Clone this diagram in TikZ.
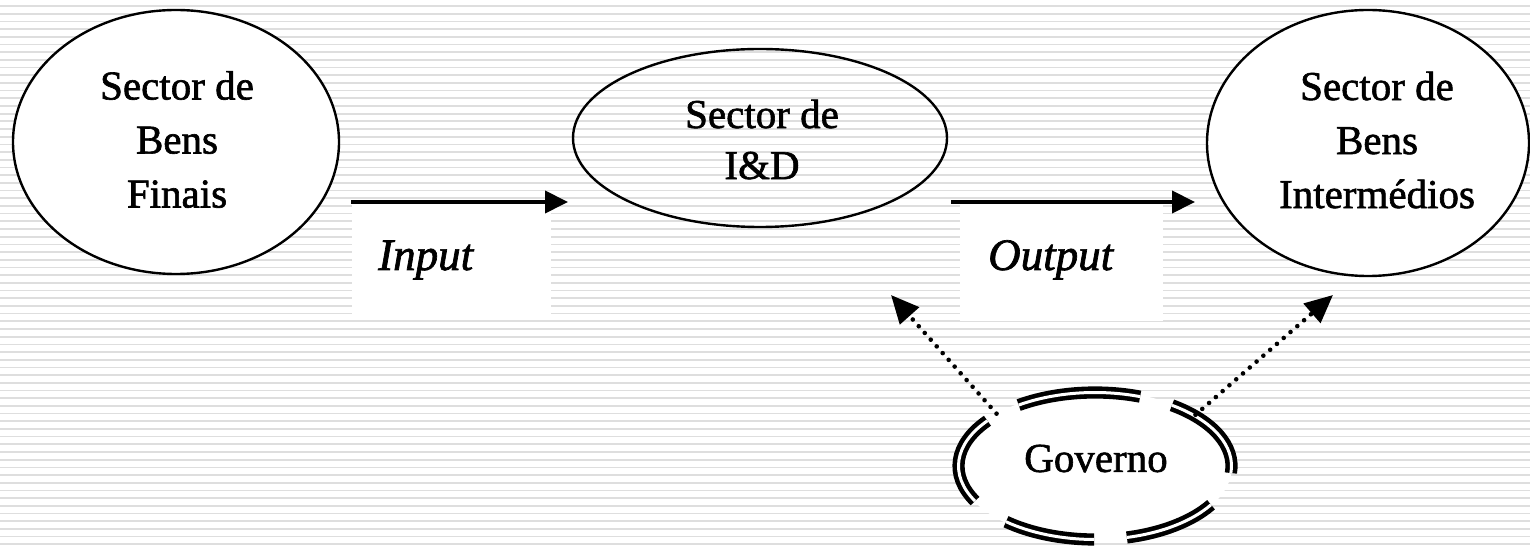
\documentclass[tikz,border=0pt]{standalone}
\usepackage{fontspec}
\setmainfont{Liberation Serif}[FakeBold=1.5]
\usetikzlibrary{arrows.meta,shapes.geometric}
\begin{document}
\begin{tikzpicture}[x=1pt,y=1pt,
  stripe/.style={draw=black!13, line width=1.7pt},
  sector/.style={ellipse, draw=black, line width=2.4pt, inner sep=0pt},
  txt/.style={align=center, font=\fontsize{41}{54}\selectfont, inner sep=0pt},
  lbltxt/.style={font=\fontsize{45}{50}\selectfont\itshape, inner sep=0pt, anchor=base west},
  flow/.style={line width=4pt, -{Triangle[length=23pt,width=22pt]}},
  influence/.style={line width=4.6pt, line cap=round, dash pattern=on 0pt off 9pt, -{Triangle[length=28pt,width=25pt]}},
  labelbox/.style={fill=white, draw=none, inner sep=0pt},
  govline/.style={draw=black, line width=4.6pt, double=white, double distance=3pt}
]
\path[use as bounding box] (0,0) rectangle (1530,546);
\fill[white] (0,0) rectangle (1530,546);
\foreach \k in {0,...,70} \draw[stripe] (0,{540-7.69*\k}) -- (1530,{540-7.69*\k});

% sector ellipses
\node[sector, fill=white, minimum width=326pt, minimum height=264pt] (fin) at (176,404) {};
\node[sector, minimum width=374pt, minimum height=178pt] (rd) at (760,408) {};
\node[sector, fill=white, minimum width=322pt, minimum height=266pt] (int) at (1368,403) {};

\node[txt] (fintxt) at (177,406.5) {Sector de\\Bens\\Finais};
\node[txt, font=\fontsize{41}{51}\selectfont] (rdtxt) at (762,406.5) {Sector de\\I\&D};
\node[txt] (inttxt) at (1377,406) {Sector de\\Bens\\Intermédios};

% label boxes
\node[labelbox, minimum width=199pt, minimum height=116pt] (inbox) at (451.5,284) {};
\node[labelbox, minimum width=203pt, minimum height=116pt] (outbox) at (1061.5,283) {};
\node[lbltxt] (intxt) at (378,276) {Input};
\node[lbltxt] (outtxt) at (988,276) {Output};

% flow arrows
\coordinate (inA) at (351,344);
\coordinate (inB) at (568,344);
\coordinate (outA) at (951,344);
\coordinate (outB) at (1195,344);
\draw[flow] (inA) -- (inB);
\draw[flow] (outA) -- (outB);

% Governo
\node[ellipse, fill=white, inner sep=0pt, minimum width=274pt, minimum height=150pt] (gov) at (1095,80) {};
\foreach \a/\b in {70.7/124, 142/208.5, 229.3/269.6, 283.5/328.2, -5.5/55.7}
  \draw[govline] (gov.center) ++({136.5*cos(\a)},{73.5*sin(\a)}) arc[start angle=\a, end angle=\b, x radius=136.5pt, y radius=73.5pt];
\node[txt, font=\fontsize{41}{50}\selectfont] (govtxt) at (1096,87.5) {Governo};

% influence arrows
\coordinate (tipL) at (891,251);
\coordinate (tipR) at (1333,251);
\draw[influence] (gov.152) -- (tipL);
\draw[influence] (gov.27) -- (tipR);
\end{tikzpicture}
\end{document}
